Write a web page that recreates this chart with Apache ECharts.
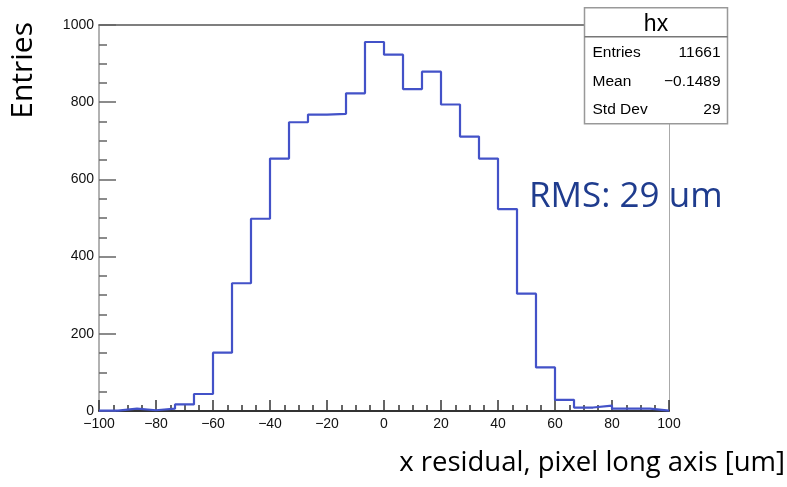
<!DOCTYPE html>
<html>
<head>
<meta charset="utf-8">
<script src="https://cdn.jsdelivr.net/npm/echarts@6/dist/echarts.min.js"></script>
<style>html,body{margin:0;padding:0;background:#fff}#c{width:787px;height:487px}</style>
</head>
<body>
<div id="c"></div>
<script>
// Histogram bin edges (um)
var binEdges = [-100, -93.33, -86.67, -80, -73.33, -66.67, -60, -53.33, -46.67, -40, -33.33, -26.67, -20, -13.33, -6.67, 0, 6.67, 13.33, 20, 26.67, 33.33, 40, 46.67, 53.33, 60, 66.67, 73.33, 80, 86.67, 93.33, 100];
// Entries per bin
var counts = [1, 6, 2, 6, 17, 44, 151, 331, 498, 654, 748, 768, 770, 823, 956, 923, 834, 879, 794, 711, 654, 523, 304, 113, 29, 9, 14, 6, 6, 1];
var xTicks = [-100, -80, -60, -40, -20, 0, 20, 40, 60, 80, 100];
var yTicks = [0, 200, 400, 600, 800, 1000];
var statsTitle = 'hx';
var statsRows = [['Entries', '11661'], ['Mean', '\u22120.1489'], ['Std Dev', '29']];
var xTitle = 'x residual, pixel long axis [um]';
var yTitle = 'Entries';
var note = 'RMS: 29 um';

var stepData = [];
for (var i = 0; i < counts.length; i++) stepData.push([binEdges[i], counts[i]]);
stepData.push([binEdges[binEdges.length - 1], counts[counts.length - 1]]);

var chart = echarts.init(document.getElementById('c'), null, {renderer: 'canvas'});
var lblFont = {fontFamily: 'Liberation Sans, Arial, sans-serif', fontSize: 14, color: '#111'};
function fmt(v) { return v < 0 ? '\u2212' + Math.abs(v) : String(v); }
var sf = 'Liberation Sans, Arial, sans-serif';
var Z = 100;

chart.setOption({
  animation: false,
  backgroundColor: '#fff',
  grid: {left: 99, right: 118, top: 25, bottom: 76, containLabel: false},
  xAxis: [{
    type: 'value', min: xTicks[0], max: xTicks[xTicks.length - 1], interval: 20,
    axisLine: {show: true, onZero: false, lineStyle: {color: '#333', width: 2}},
    axisTick: {show: true, inside: true, length: 11, lineStyle: {color: '#333', width: 1.5}},
    minorTick: {show: true, splitNumber: 4, length: 6, lineStyle: {color: '#333', width: 1.5}},
    axisLabel: Object.assign({margin: 6, formatter: fmt}, lblFont),
    splitLine: {show: false}
  }, {
    type: 'value', position: 'top', min: xTicks[0], max: xTicks[xTicks.length - 1],
    axisLine: {show: true, onZero: false, lineStyle: {color: '#555', width: 1.5}},
    axisTick: {show: false}, axisLabel: {show: false}, splitLine: {show: false}
  }],
  yAxis: [{
    type: 'value', min: yTicks[0], max: yTicks[yTicks.length - 1], interval: 200,
    axisLine: {show: true, onZero: false, lineStyle: {color: '#999', width: 1.5}},
    axisTick: {show: true, inside: true, length: 17, lineStyle: {color: '#666', width: 1.5}},
    minorTick: {show: true, splitNumber: 4, length: 8, lineStyle: {color: '#666', width: 1.5}},
    axisLabel: Object.assign({margin: 5, formatter: fmt}, lblFont),
    splitLine: {show: false}
  }, {
    type: 'value', position: 'right', min: yTicks[0], max: yTicks[yTicks.length - 1],
    axisLine: {show: true, onZero: false, lineStyle: {color: '#aaa', width: 1}},
    axisTick: {show: false}, axisLabel: {show: false}, splitLine: {show: false}
  }],
  series: [{
    type: 'line', step: 'end', data: stepData, symbol: 'none',
    xAxisIndex: 0, yAxisIndex: 0,
    lineStyle: {color: '#4352c8', width: 2.2}, z: 5
  }],
  graphic: [
    {type: 'text', left: 8, top: 22, rotation: Math.PI / 2, z: Z,
      style: {text: yTitle, fontFamily: 'Open Sans, sans-serif', fontSize: 30, fill: '#000'}},
    {type: 'text', right: 2, top: 449, z: Z,
      style: {text: xTitle, fontFamily: 'Open Sans, sans-serif', fontSize: 27.5, fill: '#000'}},
    {type: 'text', left: 529, top: 180, z: Z,
      style: {text: note, fontFamily: 'Open Sans, sans-serif', fontSize: 35, fill: '#1f3c8e'}},
    {type: 'group', left: 582, top: 7, z: Z, children: [
      {type: 'rect', z: Z, shape: {x: 0, y: 0, width: 143, height: 116},
        style: {fill: '#fff', stroke: '#999', lineWidth: 1.5}},
      {type: 'line', z: Z + 1, shape: {x1: 0, y1: 29, x2: 143, y2: 29}, style: {stroke: '#777', lineWidth: 1.5}},
      {type: 'text', z: Z + 1, x: 71.5, y: 5, style: {text: statsTitle, fontFamily: sf, fontSize: 23, fill: '#000', textAlign: 'center'}},
      {type: 'text', z: Z + 1, x: 8, y: 37, style: {text: statsRows[0][0], fontFamily: sf, fontSize: 15.5, fill: '#000'}},
      {type: 'text', z: Z + 1, x: 136, y: 37, style: {text: statsRows[0][1], fontFamily: sf, fontSize: 15.5, fill: '#000', textAlign: 'right'}},
      {type: 'text', z: Z + 1, x: 8, y: 66, style: {text: statsRows[1][0], fontFamily: sf, fontSize: 15.5, fill: '#000'}},
      {type: 'text', z: Z + 1, x: 136, y: 66, style: {text: statsRows[1][1], fontFamily: sf, fontSize: 15.5, fill: '#000', textAlign: 'right'}},
      {type: 'text', z: Z + 1, x: 8, y: 94, style: {text: statsRows[2][0], fontFamily: sf, fontSize: 15.5, fill: '#000'}},
      {type: 'text', z: Z + 1, x: 136, y: 94, style: {text: statsRows[2][1], fontFamily: sf, fontSize: 15.5, fill: '#000', textAlign: 'right'}}
    ]}
  ]
});
</script>
</body>
</html>
